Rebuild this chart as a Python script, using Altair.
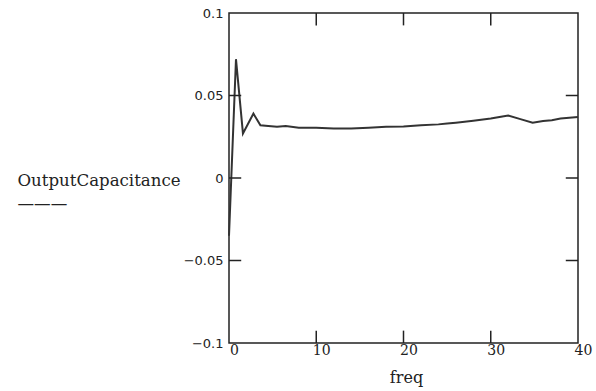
import altair as alt
import pandas as pd

# curve
freq = [0, 0.8, 1.6, 2.8, 3.6, 4.5, 5.5, 6.5, 8, 10, 12, 14, 16, 18, 20, 22, 24, 25,
        26, 28, 30, 31, 32, 33.4, 34.8, 36, 37, 38, 39, 40]
capacitance = [-0.035, 0.072, 0.027, 0.039, 0.032, 0.0315, 0.031, 0.0315, 0.0305, 0.0305,
               0.030, 0.030, 0.0305, 0.031, 0.0312, 0.032, 0.0325, 0.033,
               0.0335, 0.0347, 0.036, 0.037, 0.0378, 0.0357, 0.0335, 0.0345, 0.035, 0.036, 0.0365, 0.037]

x_ticks = [0, 10, 20, 30, 40]
y_ticks = [-0.1, -0.05, 0, 0.05, 0.1]
x_inner = [10, 20, 30]
y_inner = [-0.05, 0, 0.05]

X_MIN, X_MAX = 0, 40
Y_MIN, Y_MAX = -0.1, 0.1
TX = 1.4      # inner tick length in freq units
TY = 0.0075   # inner tick length in value units

df = pd.DataFrame({"freq": freq, "cap": capacitance})

xs = alt.Scale(domain=[X_MIN, X_MAX], nice=False, zero=False)
ys = alt.Scale(domain=[Y_MIN, Y_MAX], nice=False, zero=False)

xaxis = alt.Axis(values=x_ticks, ticks=False, domain=False, grid=False,
                 labelFont="DejaVu Serif", labelFontSize=14, labelColor="#222",
                 labelPadding=0, labelOffset=5, labelFlush=False,
                 title="freq", titleFont="DejaVu Serif", titleFontSize=16,
                 titleFontWeight="normal", titleColor="#222",
                 titleBaseline="alphabetic", titleY=39, titleX=177)
yaxis = alt.Axis(values=y_ticks, ticks=False, domain=False, grid=False,
                 format=".2~f", labelFont="DejaVu Sans", labelFontSize=13,
                 labelColor="#222", labelPadding=6, labelFlush=False,
                 title=["OutputCapacitance", "———"], titleFont="DejaVu Serif",
                 titleFontSize=16.6, titleFontWeight="normal", titleColor="#222",
                 titleAngle=0, titleAlign="left", titleBaseline="alphabetic",
                 titleX=-212, titleY=172, titleLineHeight=23)

line = alt.Chart(df).mark_line(color="#333", strokeWidth=2).encode(
    x=alt.X("freq:Q", scale=xs, axis=xaxis),
    y=alt.Y("cap:Q", scale=ys, axis=yaxis),
)

tick_style = dict(color="#222", strokeWidth=1.5)

left = alt.Chart(pd.DataFrame({"v": y_inner})).mark_rule(**tick_style).encode(
    y="v:Q", x=alt.datum(X_MIN), x2=alt.datum(X_MIN + TX))
right = alt.Chart(pd.DataFrame({"v": y_inner})).mark_rule(**tick_style).encode(
    y="v:Q", x=alt.datum(X_MAX - TX), x2=alt.datum(X_MAX))
top = alt.Chart(pd.DataFrame({"v": x_inner})).mark_rule(**tick_style).encode(
    x="v:Q", y=alt.datum(Y_MAX), y2=alt.datum(Y_MAX - TY))
bottom = alt.Chart(pd.DataFrame({"v": x_inner})).mark_rule(**tick_style).encode(
    x="v:Q", y=alt.datum(Y_MIN), y2=alt.datum(Y_MIN + TY))

chart = alt.layer(line, left, right, top, bottom).properties(
    width=349, height=330,
    autosize=alt.AutoSizeParams(type="none"),
    padding={"left": 229, "top": 13, "right": 18, "bottom": 48},
    background="white",
).configure_view(stroke="#222", strokeWidth=1.5)

chart.save("out.html", embed_options={"renderer": "svg", "actions": False})
